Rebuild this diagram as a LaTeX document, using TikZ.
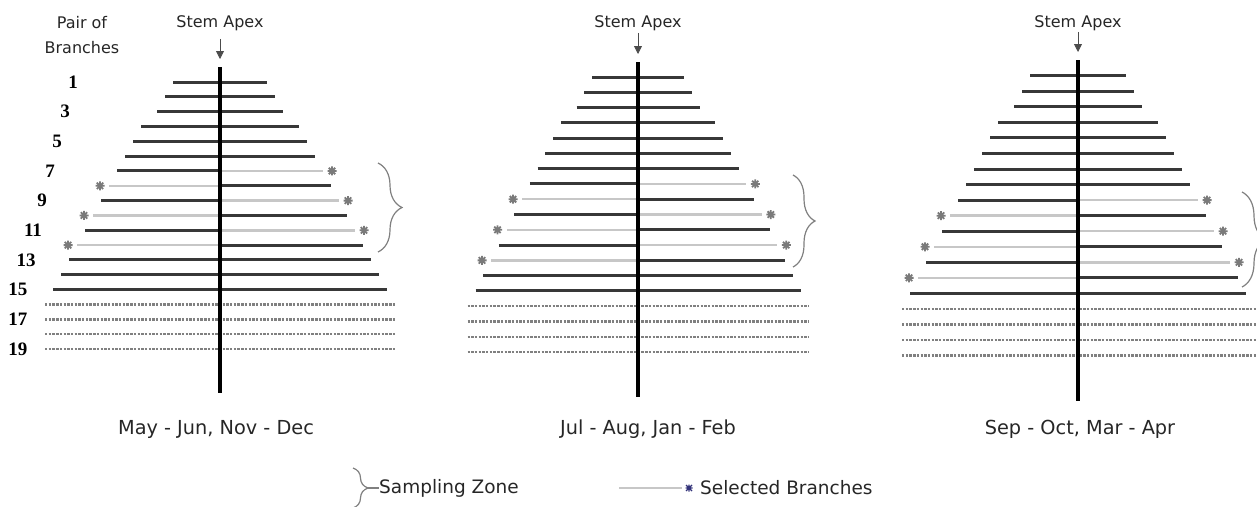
\documentclass[tikz,border=0pt]{standalone}
\usepackage{fontspec}
\newfontfamily\labelfont{DejaVu Sans}
\newfontfamily\numfont{Liberation Serif}
\usetikzlibrary{arrows.meta,decorations.pathreplacing}

\tikzset{
  branch/.style={line width=3pt, draw=black!78},
  selbranch/.style={line width=2.4pt, draw=black!22},
  dotbranch/.style={line width=2.5pt, draw=black!50, dash pattern=on 2.4pt off 1.3pt},
  stem/.style={line width=4pt, draw=black},
  selmark/.style={line width=1.8pt, draw=black!52},
  zonebrace/.style={draw=black!50, line width=1.2pt, decorate, decoration={brace, amplitude=#1}},
  apexarrow/.style={draw=black!70, line width=0.8pt, -{Triangle[width=8pt,length=8pt]}},
  toplabel/.style={font=\labelfont\fontsize{16}{25}\selectfont, text=black!85, inner sep=0pt, align=center},
  caption/.style={font=\labelfont\fontsize{18.5}{22}\selectfont, text=black!85, inner sep=0pt},
  season/.style={font=\labelfont\fontsize{19.3}{22}\selectfont, text=black!85, inner sep=0pt},
  rownum/.style={font=\numfont\bfseries\fontsize{19}{22}\selectfont, inner sep=0pt},
}

% asterisk at the tip of a selected branch
\newcommand\selbranchmark[2]{%
  \draw[selmark] ({#1-4.5},#2) -- ({#1+4.5},#2) (#1,{#2-4.5}) -- (#1,{#2+4.5})
    ({#1-3.2},{#2-3.2}) -- ({#1+3.2},{#2+3.2}) ({#1-3.2},{#2+3.2}) -- ({#1+3.2},{#2-3.2});}

% one tree: #1 stem x, #2 stem top, #3 stem bottom, #4 first row y,
% #5 row gap, #6 first half-width, #7 widening per row, #8 first selected row,
% #9 extra reach of the dotted rows on the right
\newcommand\branchtree[9]{%
  \foreach \row in {1,...,19}{%
    \pgfmathsetmacro\yy{#4+(\row-1)*#5}%
    \pgfmathsetmacro\oo{#6+(\row-1)*#7+(\row>3)*8}%
    \pgfmathtruncatemacro\kk{\row-#8}%
    \ifnum\row>15
      \pgfmathsetmacro\dd{#6+14*#7+16}%
      \draw[dotbranch] ({#1-\dd},\yy) -- ({#1+\dd+#9},\yy);
    \else
      \ifnum\kk<0 \def\side{0}\else\ifnum\kk>5 \def\side{0}\else\ifodd\kk \def\side{1}\else\def\side{2}\fi\fi\fi
      \ifnum\side=1
        \draw[selbranch] (#1,\yy) -- ({#1-\oo},\yy);
        \selbranchmark{#1-\oo-9}{\yy}
      \else
        \draw[branch] ({#1-\oo},\yy) -- (#1,\yy);
      \fi
      \ifnum\side=2
        \draw[selbranch] (#1,\yy) -- ({#1+\oo},\yy);
        \selbranchmark{#1+\oo+9}{\yy}
      \else
        \draw[branch] (#1,\yy) -- ({#1+\oo},\yy);
      \fi
    \fi
  }%
  \draw[stem] (#1,#2) -- (#1,#3);
}

\begin{document}
\begin{tikzpicture}[x=1pt, y=-1pt]
\useasboundingbox (0,0) rectangle (1257,506);

% --- trees -------------------------------------------------------------
\branchtree{220}{67}{393}{82}{14.83}{47}{8}{7}{1}
\branchtree{638}{62}{397}{77}{15.28}{46}{7.75}{8}{0}
\branchtree{1078}{60}{401}{75.7}{15.55}{48}{8}{9}{10}

% --- sampling zones --------------------------------------------------------
\draw[zonebrace=24pt] (378,163) -- (378,252);
\draw[zonebrace=22pt] (793,175) -- (793,267);
\draw[zonebrace=24pt] (1242,192) -- (1242,287);

% --- stem apex labels -------------------------------------------------------
\node[toplabel] (pair) at (82,35) {Pair of\\Branches};
\node[toplabel] (apex1) at (220,23) {Stem Apex};
\node[toplabel] (apex2) at (638,23) {Stem Apex};
\node[toplabel] (apex3) at (1078,23) {Stem Apex};
\coordinate (tip1) at (220,59);
\coordinate (tip2) at (638,54);
\coordinate (tip3) at (1078,52);
\draw[apexarrow, shorten <=8pt] (apex1.south) -- (tip1);
\draw[apexarrow, shorten <=2pt] (apex2.south) -- (tip2);
\draw[apexarrow, shorten <=1pt] (apex3.south) -- (tip3);

% --- pair numbers -------------------------------------------------------------
\foreach \num/\nx in {1/73,3/65,5/57,7/50,9/42,11/33,13/26,15/18,17/18,19/18}{
  \node[rownum] (n\num) at (\nx,{82+(\num-1)*14.83}) {\num};
}

% --- season captions -----------------------------------------------------------
\node[season] (cap1) at (216,429) {May - Jun, Nov - Dec};
\node[season] (cap2) at (648,429) {Jul - Aug, Jan - Feb};
\node[season] (cap3) at (1080,429) {Sep - Oct, Mar - Apr};

% --- legend -----------------------------------------------------------------
\draw[zonebrace=15pt] (353,468) -- (353,508);
\coordinate (zonetip) at (368,488);
\node[caption, anchor=west] (zonetext) at (379,488) {Sampling Zone};
\draw[draw=black!50, line width=1.2pt] (zonetip) -- (zonetext.west);
\coordinate (selstart) at (619,488);
\coordinate (selend) at (682,488);
\draw[selbranch, line width=1.6pt] (selstart) -- (selend);
\draw[line width=1.3pt, draw=black!65!blue!80]
  (686,485) -- (692,491) (686,491) -- (692,485) (689,484.5) -- (689,491.5) (685.5,488) -- (692.5,488);
\node[caption, anchor=west] (seltext) at (700,488) {Selected Branches};
\end{tikzpicture}
\end{document}
